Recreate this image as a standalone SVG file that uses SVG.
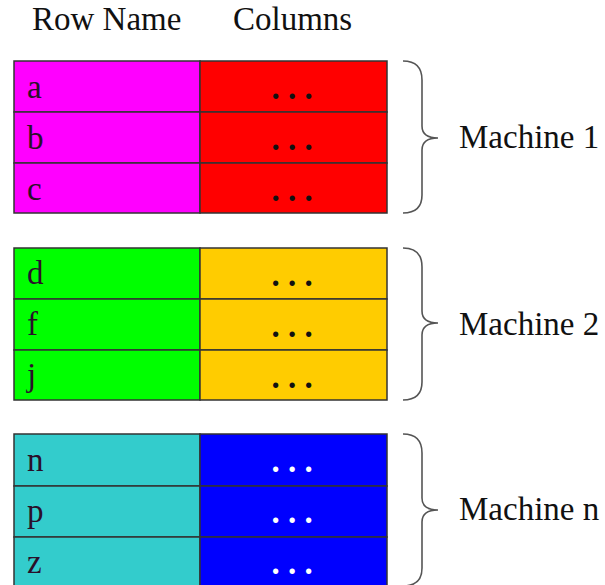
<svg xmlns="http://www.w3.org/2000/svg" width="605" height="585" viewBox="0 0 605 585">
<style>
text{font-family:"Liberation Serif","Times New Roman",serif;font-size:33px;fill:#111}
.cell{stroke:#333;stroke-width:1.5}
.lbl{fill:#2a102a}
.dots{text-anchor:middle;font-weight:bold}
.wd{fill:#fff}
.brace{fill:none;stroke:#555;stroke-width:1.6}
.r{fill:#ff0000}.g{fill:#00ff00}.y{fill:#ffcc00}.c{fill:#33cccc}.b{fill:#0000ff}
.mg{fill:#ff00ff}
</style>
<rect width="605" height="585" fill="#fff"/>
<g id="header">
<text x="32" y="30">Row Name</text>
<text x="233" y="30">Columns</text>
</g>
<g id="machine1-rows">
<g id="row-a"><rect class="cell mg" x="14" y="61" width="186" height="51"/><rect class="cell r" x="200" y="61" width="187" height="51"/><text class="lbl" x="27" y="98">a</text><text class="dots" x="292" y="99">. . .</text></g>
<g id="row-b"><rect class="cell mg" x="14" y="112" width="186" height="51"/><rect class="cell r" x="200" y="112" width="187" height="51"/><text class="lbl" x="27" y="149">b</text><text class="dots" x="292" y="150">. . .</text></g>
<g id="row-c"><rect class="cell mg" x="14" y="163" width="186" height="50"/><rect class="cell r" x="200" y="163" width="187" height="50"/><text class="lbl" x="27" y="200">c</text><text class="dots" x="292" y="201">. . .</text></g>
</g>
<g id="machine2-rows">
<g id="row-d"><rect class="cell g" x="14" y="248" width="186" height="51"/><rect class="cell y" x="200" y="248" width="187" height="51"/><text class="lbl" x="27" y="284">d</text><text class="dots" x="292" y="286">. . .</text></g>
<g id="row-f"><rect class="cell g" x="14" y="299" width="186" height="51"/><rect class="cell y" x="200" y="299" width="187" height="51"/><text class="lbl" x="27" y="335">f</text><text class="dots" x="292" y="337">. . .</text></g>
<g id="row-j"><rect class="cell g" x="14" y="350" width="186" height="50"/><rect class="cell y" x="200" y="350" width="187" height="50"/><text class="lbl" x="27" y="386">j</text><text class="dots" x="292" y="388">. . .</text></g>
</g>
<g id="machinen-rows">
<g id="row-n"><rect class="cell c" x="14" y="434" width="186" height="52"/><rect class="cell b" x="200" y="434" width="187" height="52"/><text class="lbl" x="27" y="471">n</text><text class="dots wd" x="292" y="472">. . .</text></g>
<g id="row-p"><rect class="cell c" x="14" y="486" width="186" height="51"/><rect class="cell b" x="200" y="486" width="187" height="51"/><text class="lbl" x="27" y="522">p</text><text class="dots wd" x="292" y="523">. . .</text></g>
<g id="row-z"><rect class="cell c" x="14" y="537" width="186" height="51"/><rect class="cell b" x="200" y="537" width="187" height="51"/><text class="lbl" x="27" y="573">z</text><text class="dots wd" x="292" y="574">. . .</text></g>
</g>
<g id="connectors">
<path class="brace" d="M403,61 Q422,61 422,80 L422,126 Q422,138 438,138 Q422,138 422,150 L422,195 Q422,213 403,213"/>
<path class="brace" d="M403,248 Q422,248 422,267 L422,311 Q422,323 438,323 Q422,323 422,335 L422,382 Q422,400 403,400"/>
<path class="brace" d="M403,434 Q422,434 422,453 L422,498 Q422,510 438,510 Q422,510 422,522 L422,568 Q422,586 403,586"/>
</g>
<g id="machine1"><text x="459" y="148">Machine 1</text></g>
<g id="machine2"><text x="459" y="335">Machine 2</text></g>
<g id="machinen"><text x="459" y="520">Machine n</text></g>
</svg>
